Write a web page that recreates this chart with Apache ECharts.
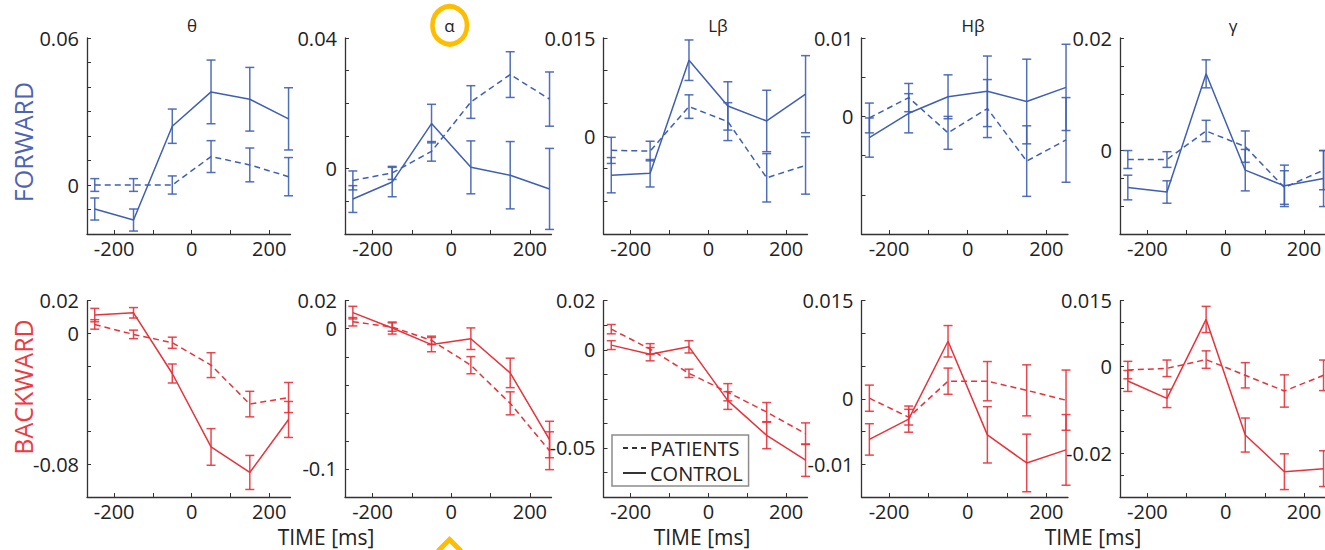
<!DOCTYPE html>
<html>
<head>
<meta charset="utf-8">
<script src="https://cdn.jsdelivr.net/npm/echarts@6/dist/echarts.min.js"></script>
<style>
  html, body { margin: 0; padding: 0; background: #fff; }
  #chart { width: 1325px; height: 550px; }
</style>
</head>
<body>
<div id="chart"></div>
<script>
// Time bins (ms) relative to the event
const times = [-250, -150, -50, 50, 150, 250];
const bands = ['θ', 'α', 'Lβ', 'Hβ', 'γ'];

// ---- FORWARD connectivity: mean and error (± half-width) per time bin ----
const fwdThetaCtrl    = [-0.0098, -0.0143, 0.0240, 0.0380, 0.0350, 0.0270];
const fwdThetaCtrlErr = [0.0045, 0.0045, 0.0070, 0.0130, 0.0130, 0.0127];
const fwdThetaPat     = [0.0000, 0.0000, 0.0000, 0.0116, 0.0082, 0.0034];
const fwdThetaPatErr  = [0.0026, 0.0026, 0.0037, 0.0065, 0.0069, 0.0078];

const fwdAlphaCtrl    = [-0.0093, -0.0041, 0.0138, 0.0004, -0.0020, -0.0062];
const fwdAlphaCtrlErr = [0.0041, 0.0045, 0.0059, 0.0081, 0.0103, 0.0124];
const fwdAlphaPat     = [-0.0036, -0.0013, 0.0053, 0.0204, 0.0288, 0.0213];
const fwdAlphaPatErr  = [0.0029, 0.0020, 0.0030, 0.0050, 0.0070, 0.0083];

const fwdLBetaCtrl    = [-0.0060, -0.0057, 0.0116, 0.0046, 0.0023, 0.0064];
const fwdLBetaCtrlErr = [0.0027, 0.0021, 0.0031, 0.0037, 0.0047, 0.0059];
const fwdLBetaPat     = [-0.0022, -0.0023, 0.0045, 0.0022, -0.0064, -0.0045];
const fwdLBetaPatErr  = [0.0020, 0.0015, 0.0018, 0.0029, 0.0037, 0.0044];

const fwdHBetaCtrl    = [-0.0027, 0.0004, 0.0025, 0.0032, 0.0019, 0.0037];
const fwdHBetaCtrlErr = [0.0025, 0.0025, 0.0028, 0.0045, 0.0054, 0.0055];
const fwdHBetaPat     = [-0.0002, 0.0024, -0.0021, 0.0010, -0.0057, -0.0030];
const fwdHBetaPatErr  = [0.0019, 0.0018, 0.0021, 0.0037, 0.0045, 0.0054];

const fwdGammaCtrl    = [-0.0067, -0.0075, 0.0136, -0.0036, -0.0064, -0.0051];
const fwdGammaCtrlErr = [0.0022, 0.0020, 0.0025, 0.0037, 0.0037, 0.0050];
const fwdGammaPat     = [-0.0017, -0.0017, 0.0034, 0.0006, -0.0067, -0.0036];
const fwdGammaPatErr  = [0.0016, 0.0014, 0.0019, 0.0028, 0.0030, 0.0035];

// ---- BACKWARD connectivity ----
const bwdThetaCtrl    = [0.0112, 0.0126, -0.0245, -0.0694, -0.0850, -0.0526];
const bwdThetaCtrlErr = [0.0041, 0.0032, 0.0058, 0.0112, 0.0104, 0.0110];
const bwdThetaPat     = [0.0055, -0.0006, -0.0057, -0.0194, -0.0432, -0.0392];
const bwdThetaPatErr  = [0.0029, 0.0026, 0.0034, 0.0076, 0.0078, 0.0092];

const bwdAlphaCtrl    = [0.0115, 0.0005, -0.0113, -0.0071, -0.0315, -0.0790];
const bwdAlphaCtrlErr = [0.0045, 0.0043, 0.0051, 0.0077, 0.0105, 0.0130];
const bwdAlphaPat     = [0.0050, 0.0012, -0.0083, -0.0260, -0.0532, -0.0870];
const bwdAlphaPatErr  = [0.0030, 0.0030, 0.0030, 0.0061, 0.0082, 0.0135];

const bwdLBetaCtrl    = [0.0019, -0.0018, 0.0012, -0.0207, -0.0349, -0.0450];
const bwdLBetaCtrlErr = [0.0018, 0.0027, 0.0025, 0.0036, 0.0054, 0.0066];
const bwdLBetaPat     = [0.0084, 0.0003, -0.0096, -0.0173, -0.0254, -0.0342];
const bwdLBetaPatErr  = [0.0019, 0.0022, 0.0017, 0.0035, 0.0039, 0.0044];

const bwdHBetaCtrl    = [-0.0062, -0.0031, 0.0088, -0.0055, -0.0098, -0.0078];
const bwdHBetaCtrlErr = [0.0024, 0.0020, 0.0024, 0.0043, 0.0044, 0.0054];
const bwdHBetaPat     = [0.0001, -0.0028, 0.0027, 0.0027, 0.0013, -0.0002];
const bwdHBetaPatErr  = [0.0020, 0.0012, 0.0020, 0.0030, 0.0039, 0.0046];

const bwdGammaCtrl    = [-0.0034, -0.0074, 0.0107, -0.0158, -0.0242, -0.0235];
const bwdGammaCtrlErr = [0.0024, 0.0021, 0.0030, 0.0039, 0.0041, 0.0041];
const bwdGammaPat     = [-0.0009, -0.0005, 0.0015, -0.0021, -0.0057, -0.0021];
const bwdGammaPatErr  = [0.0020, 0.0019, 0.0020, 0.0029, 0.0037, 0.0035];

// ---- Axis tick labels ----
const xTickLabels = [-200, 0, 200];
const xMinorTicks = [-200, -100, 0, 100, 200];
const fwdYLabels = [
  [[0.06, '0.06'], [0, '0']],
  [[0.04, '0.04'], [0, '0']],
  [[0.015, '0.015'], [0, '0']],
  [[0.01, '0.01'], [0, '0']],
  [[0.02, '0.02'], [0, '0']]
];
const bwdYLabels = [
  [[0.02, '0.02'], [0, '0'], [-0.08, '-0.08']],
  [[0.02, '0.02'], [0, '0'], [-0.1, '-0.1']],
  [[0.02, '0.02'], [0, '0'], [-0.04, '-0.05']],
  [[0.015, '0.015'], [0, '0'], [-0.01, '-0.01']],
  [[0.015, '0.015'], [0, '0'], [-0.02, '-0.02']]
];

// ---- Layout and styling ----
const BLUE = '#3f5fb2';
const RED = '#e8323b';
const FONT = "'Open Sans', 'Noto Sans', sans-serif";
const colLeft  = [87, 345, 603.5, 861.5, 1120];
const colWidth = [203.5, 206.5, 204, 206.5, 205.5];
const rowTop = [38, 300.7];
const rowHeight = [196, 196.3];
const xMin = -270, xMax = 255;
// y-range per panel: [min, max, tick step]
const fwdYRange = [[-0.02, 0.06, 0.01], [-0.02, 0.04, 0.01], [-0.015, 0.015, 0.005], [-0.015, 0.01, 0.005], [-0.015, 0.02, 0.005]];
const bwdYRange = [[-0.1, 0.02, 0.02], [-0.12, 0.02, 0.02], [-0.06, 0.02, 0.01], [-0.015, 0.015, 0.005], [-0.03, 0.015, 0.005]];

const fwdSets = [
  [fwdThetaCtrl, fwdThetaCtrlErr, fwdThetaPat, fwdThetaPatErr],
  [fwdAlphaCtrl, fwdAlphaCtrlErr, fwdAlphaPat, fwdAlphaPatErr],
  [fwdLBetaCtrl, fwdLBetaCtrlErr, fwdLBetaPat, fwdLBetaPatErr],
  [fwdHBetaCtrl, fwdHBetaCtrlErr, fwdHBetaPat, fwdHBetaPatErr],
  [fwdGammaCtrl, fwdGammaCtrlErr, fwdGammaPat, fwdGammaPatErr]
];
const bwdSets = [
  [bwdThetaCtrl, bwdThetaCtrlErr, bwdThetaPat, bwdThetaPatErr],
  [bwdAlphaCtrl, bwdAlphaCtrlErr, bwdAlphaPat, bwdAlphaPatErr],
  [bwdLBetaCtrl, bwdLBetaCtrlErr, bwdLBetaPat, bwdLBetaPatErr],
  [bwdHBetaCtrl, bwdHBetaCtrlErr, bwdHBetaPat, bwdHBetaPatErr],
  [bwdGammaCtrl, bwdGammaCtrlErr, bwdGammaPat, bwdGammaPatErr]
];

function tickValues(min, max, step) {
  const out = [];
  const n = Math.round((max - min) / step);
  for (let k = 0; k <= n; k++) out.push(Math.round((min + k * step) * 1e6) / 1e6);
  return out;
}

function errorBarRenderer(color) {
  return function (params, api) {
    const x = api.value(0);
    const lo = api.coord([x, api.value(1)]);
    const hi = api.coord([x, api.value(2)]);
    const w = 4.5;
    const style = { stroke: color, lineWidth: 1.5, fill: null, opacity: 0.9 };
    return {
      type: 'group',
      children: [
        { type: 'line', shape: { x1: lo[0], y1: lo[1], x2: hi[0], y2: hi[1] }, style },
        { type: 'line', shape: { x1: lo[0] - w, y1: lo[1], x2: lo[0] + w, y2: lo[1] }, style },
        { type: 'line', shape: { x1: hi[0] - w, y1: hi[1], x2: hi[0] + w, y2: hi[1] }, style }
      ]
    };
  };
}

const grid = [], xAxis = [], yAxis = [], series = [];

function addPanel(row, col, sets, yRange, yLabels, color) {
  const idx = grid.length;
  grid.push({
    left: colLeft[col], top: rowTop[row], width: colWidth[col], height: rowHeight[row],
    outerBoundsMode: 'none', containLabel: false
  });
  const axisLine = { show: true, onZero: false, lineStyle: { color: '#333', width: 1.3 } };
  xAxis.push({
    type: 'value', gridIndex: idx, min: xMin, max: xMax,
    axisLine, splitLine: { show: false },
    axisTick: { show: true, inside: true, length: 4, customValues: xMinorTicks, lineStyle: { color: '#333' } },
    axisLabel: { customValues: xTickLabels, fontSize: 20, lineHeight: 17, color: '#222', fontFamily: FONT, margin: 6 }
  });
  const [yMin, yMax, yStep] = yRange;
  yAxis.push({
    type: 'value', gridIndex: idx, min: yMin, max: yMax,
    axisLine, splitLine: { show: false },
    axisTick: { show: true, inside: true, length: 4, customValues: tickValues(yMin, yMax, yStep), lineStyle: { color: '#333' } },
    axisLabel: {
      customValues: yLabels.map(d => d[0]),
      fontSize: 20, lineHeight: 18, color: '#222', fontFamily: FONT, margin: 8,
      formatter: function (v) {
        const hit = yLabels.find(d => Math.abs(d[0] - v) < 1e-9);
        return hit ? hit[1] : '';
      }
    }
  });
  const [ctrl, ctrlErr, pat, patErr] = sets;
  const line = (vals, dashed) => ({
    type: 'line', xAxisIndex: idx, yAxisIndex: idx, symbol: 'none', silent: true,
    lineStyle: { color, width: 1.5, type: dashed ? [6, 4] : 'solid' },
    data: times.map((t, i) => [t, vals[i]]), z: 3
  });
  const bars = (vals, errs) => ({
    type: 'custom', xAxisIndex: idx, yAxisIndex: idx, silent: true, clip: false,
    renderItem: errorBarRenderer(color),
    encode: { x: 0, y: [1, 2] },
    data: times.map((t, i) => [t, vals[i] - errs[i], vals[i] + errs[i]]), z: 4
  });
  series.push(line(pat, true), line(ctrl, false), bars(pat, patErr), bars(ctrl, ctrlErr));
  return idx;
}

for (let c = 0; c < 5; c++) addPanel(0, c, fwdSets[c], fwdYRange[c], fwdYLabels[c], BLUE);
let legendPanel = 0;
for (let c = 0; c < 5; c++) {
  const i = addPanel(1, c, bwdSets[c], bwdYRange[c], bwdYLabels[c], RED);
  if (c === 2) legendPanel = i;
}

// Legend entries (group line styles only)
series.push(
  { type: 'line', name: 'PATIENTS', xAxisIndex: legendPanel, yAxisIndex: legendPanel, symbol: 'none', showSymbol: false, data: [],
    lineStyle: { color: '#333', width: 1.3, type: [5, 4] }, itemStyle: { color: '#333' } },
  { type: 'line', name: 'CONTROL', xAxisIndex: legendPanel, yAxisIndex: legendPanel, symbol: 'none', showSymbol: false, data: [],
    lineStyle: { color: '#333', width: 1.3 }, itemStyle: { color: '#333' } }
);

const titleX = [192, 449.5, 718, 973, 1233];
const graphic = [];
bands.forEach((b, i) => graphic.push({
  type: 'text', x: titleX[i], y: 25,
  style: { text: b, fontSize: 17, fontFamily: FONT, fill: '#222', textAlign: 'center', textVerticalAlign: 'middle' }
}));
graphic.push(
  { type: 'text', x: 23, y: 142, rotation: Math.PI / 2,
    style: { text: 'FORWARD', fontSize: 25, fontFamily: FONT, fill: '#4d63b6', textAlign: 'center', textVerticalAlign: 'middle' } },
  { type: 'text', x: 23, y: 387, rotation: Math.PI / 2,
    style: { text: 'BACKWARD', fontSize: 25, fontFamily: FONT, fill: '#ee3a3f', textAlign: 'center', textVerticalAlign: 'middle' } }
);
[326, 702, 1093].forEach(x => graphic.push({
  type: 'text', x, y: 537,
  style: { text: 'TIME [ms]', fontSize: 21, lineHeight: 19, fontFamily: FONT, fill: '#222', textAlign: 'center', textVerticalAlign: 'middle' }
}));
// Highlight ring around the alpha band title and the marker below it
graphic.push(
  { type: 'circle', x: 449.7, y: 25.3, scaleY: 1.09, shape: { cx: 0, cy: 0, r: 17.3 },
    style: { fill: 'none', stroke: '#ffbd00', lineWidth: 4.6 } },
  { type: 'polyline', shape: { points: [[438, 551], [449.5, 539.5], [461, 551]] },
    style: { fill: 'none', stroke: '#ffbd00', lineWidth: 5 } }
);

const chart = echarts.init(document.getElementById('chart'), null, { renderer: 'svg' });
chart.setOption({
  animation: false,
  backgroundColor: '#fff',
  grid, xAxis, yAxis, series, graphic,
  legend: {
    data: ['PATIENTS', 'CONTROL'], orient: 'vertical',
    left: 612, top: 435,
    padding: [3, 6, 3, 10], itemGap: 5, itemWidth: 23, itemHeight: 14,
    borderColor: '#8c8c8c', borderWidth: 1.5, backgroundColor: '#fff',
    itemStyle: { color: 'rgba(0,0,0,0)', borderWidth: 0 },
    textStyle: { fontSize: 20, lineHeight: 18, fontFamily: FONT, color: '#222', padding: [0, 0, 0, -1] },
    selectedMode: false
  }
});
</script>
</body>
</html>
